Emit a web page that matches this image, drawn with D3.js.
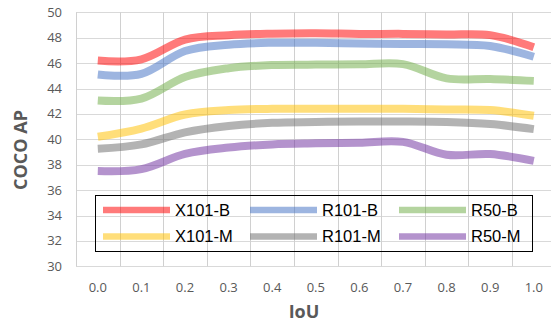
<!DOCTYPE html>
<html>
<head>
<meta charset="utf-8">
<script src="https://cdn.jsdelivr.net/npm/d3@7"></script>
<style>
  body { margin: 0; background: #fff; }
  svg { display: block; }
</style>
</head>
<body>
<div id="chart"></div>
<script>
// categories and tick labels
const iouLabels = ['0.0', '0.1', '0.2', '0.3', '0.4', '0.5', '0.6', '0.7', '0.8', '0.9', '1.0'];
const yTicks = [30, 32, 34, 36, 38, 40, 42, 44, 46, 48, 50];

// series values (COCO AP)
const x101B = [46.2, 46.3, 47.85, 48.2, 48.32, 48.35, 48.3, 48.3, 48.25, 48.2, 47.25];
const r101B = [45.1, 45.15, 46.95, 47.45, 47.6, 47.6, 47.55, 47.5, 47.48, 47.35, 46.5];
const r50B = [43.05, 43.2, 44.9, 45.6, 45.85, 45.88, 45.9, 45.92, 44.8, 44.75, 44.6];
const x101M = [40.2, 40.85, 41.95, 42.3, 42.4, 42.4, 42.4, 42.4, 42.35, 42.3, 41.85];
const r101M = [39.25, 39.6, 40.55, 41.05, 41.3, 41.36, 41.4, 41.4, 41.36, 41.2, 40.8];
const r50M = [37.5, 37.65, 38.85, 39.35, 39.6, 39.68, 39.73, 39.8, 38.78, 38.84, 38.3];

const seriesNames = ['X101-B', 'R101-B', 'R50-B', 'X101-M', 'R101-M', 'R50-M'];
const seriesValues = [x101B, r101B, r50B, x101M, r101M, r50M];
const seriesColors = ['#ff0000', '#4472c4', '#70ad47', '#ffc000', '#6e6e6e', '#7030a0'];

const width = 551, height = 324;
const plot = { left: 76, right: 555.6, top: 12.3, bottom: 266.3 };

const svg = d3.select('#chart').append('svg')
  .attr('width', width)
  .attr('height', height);

const x = d3.scaleBand().domain(iouLabels).range([plot.left, plot.right]).padding(0);
const y = d3.scaleLinear().domain([30, 50]).range([plot.bottom, plot.top]);

// horizontal grid
svg.append('g')
  .selectAll('line')
  .data(yTicks)
  .join('line')
  .attr('x1', plot.left)
  .attr('x2', plot.right)
  .attr('y1', d => Math.round(y(d)) + 0.5)
  .attr('y2', d => Math.round(y(d)) + 0.5)
  .attr('stroke', '#d9d9d9')
  .attr('stroke-width', 1);

// vertical grid at category boundaries
const bounds = iouLabels.map(d => x(d)).concat([plot.right]);
svg.append('g')
  .selectAll('line')
  .data(bounds)
  .join('line')
  .attr('x1', d => Math.round(d) + 0.5)
  .attr('x2', d => Math.round(d) + 0.5)
  .attr('y1', plot.top)
  .attr('y2', plot.bottom)
  .attr('stroke', '#d0d0d0')
  .attr('stroke-width', 1);

// y tick labels
svg.append('g')
  .selectAll('text')
  .data(yTicks)
  .join('text')
  .attr('x', 62)
  .attr('y', d => y(d))
  .attr('dy', '0.35em')
  .attr('text-anchor', 'end')
  .attr('fill', '#595959')
  .style('font', '13px "Open Sans", "Noto Sans", sans-serif')
  .text(d => d);

// x tick labels
svg.append('g')
  .selectAll('text')
  .data(iouLabels)
  .join('text')
  .attr('x', d => x(d) + x.bandwidth() / 2)
  .attr('y', 287)
  .attr('dy', '0.35em')
  .attr('text-anchor', 'middle')
  .attr('fill', '#595959')
  .style('font', '13px "Open Sans", "Noto Sans", sans-serif')
  .text(d => d);

// axis titles
svg.append('text')
  .attr('x', 304)
  .attr('y', 318)
  .attr('text-anchor', 'middle')
  .attr('fill', '#595959')
  .style('font', 'bold 18px "Open Sans", "Noto Sans", sans-serif')
  .text('IoU');

svg.append('text')
  .attr('transform', 'translate(27, 150) rotate(-90)')
  .attr('text-anchor', 'middle')
  .attr('fill', '#595959')
  .style('font', 'bold 18px "Open Sans", "Noto Sans", sans-serif')
  .text('COCO AP');

// smoothed lines
const line = d3.line()
  .x((d, i) => x(iouLabels[i]) + x.bandwidth() / 2)
  .y(d => y(d))
  .curve(d3.curveCatmullRom.alpha(0));

svg.append('g')
  .selectAll('path')
  .data(seriesValues)
  .join('path')
  .attr('d', d => line(d))
  .attr('fill', 'none')
  .attr('stroke', (d, i) => seriesColors[i])
  .attr('stroke-opacity', 0.52)
  .attr('stroke-width', 8);

// legend
const legend = svg.append('g');
legend.append('rect')
  .attr('x', 95.5)
  .attr('y', 195.5)
  .attr('width', 437)
  .attr('height', 56)
  .attr('fill', 'none')
  .attr('stroke', '#000')
  .attr('stroke-width', 1);

const colX = [103, 250, 399];
const rowY = [210, 236.5];
const items = legend.selectAll('g.item')
  .data(seriesNames)
  .join('g')
  .attr('class', 'item')
  .attr('transform', (d, i) => `translate(${colX[i % 3]}, ${rowY[Math.floor(i / 3)]})`);

items.append('line')
  .attr('x1', 0)
  .attr('x2', 67)
  .attr('stroke', (d, i) => seriesColors[i])
  .attr('stroke-opacity', 0.52)
  .attr('stroke-width', 6.5);

items.append('text')
  .attr('x', 72)
  .attr('dy', '0.36em')
  .attr('fill', '#000')
  .style('font', '16.5px "Liberation Sans", Arial, sans-serif')
  .text(d => d);
</script>
</body>
</html>
